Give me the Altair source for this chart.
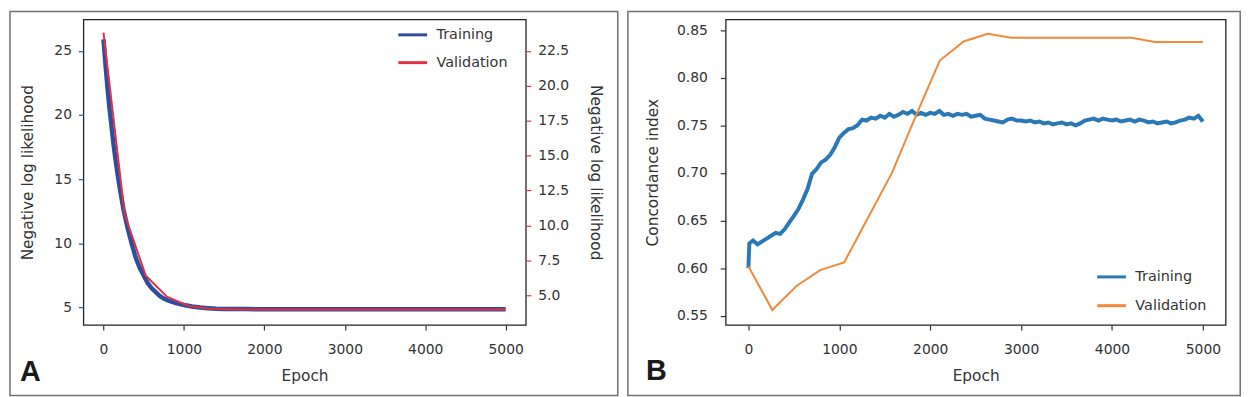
import altair as alt
import pandas as pd

FONT = "DejaVu Sans"

# ---------------- Panel A data ----------------
a_train_epoch = [0, 25, 50, 75, 100, 125, 150, 175, 200, 250, 300, 350, 400, 450, 500,
                 550, 600, 650, 700, 750, 800, 900, 1000, 1100, 1200, 1300, 1400, 1500,
                 1750, 2000, 2500, 3000, 3500, 4000, 4500, 4999]
a_train_nll = [25.9, 23.9, 22.1, 20.5, 19.1, 17.7, 16.5, 15.4, 14.4, 12.6, 11.2, 10.0, 8.9, 8.1, 7.5,
               6.9, 6.5, 6.2, 5.9, 5.7, 5.55, 5.35, 5.2, 5.08, 5.0, 4.95, 4.91, 4.89,
               4.88, 4.87, 4.87, 4.86, 4.86, 4.86, 4.86, 4.86]

val_epoch = [0, 263, 526, 789, 1053, 1316, 1579, 1842, 2105, 2368, 2632, 2895, 3158,
             3421, 3684, 3947, 4211, 4474, 4737, 5000]
a_val_nll = [23.8, 10.8, 6.4, 4.9, 4.25, 4.04, 4.0, 3.99, 3.99, 3.99, 3.99, 3.99, 3.99,
             3.99, 3.99, 3.99, 3.99, 3.99, 3.99, 3.99]

# ---------------- Panel B data ----------------
b_train_epoch = [0, 10, 50, 100, 150, 200, 250, 300, 350, 400, 450, 500, 550, 600, 650, 700,
                 750, 800, 850, 900, 950, 1000, 1050, 1100, 1150, 1200, 1250, 1300, 1350,
                 1400, 1450, 1500, 1550, 1600, 1650, 1700, 1750, 1800, 1850, 1900, 1950,
                 2000, 2050, 2100, 2150, 2200, 2250, 2300, 2350, 2400, 2450, 2500, 2550,
                 2600, 2650, 2700, 2750, 2800, 2850, 2900, 2950, 3000, 3050, 3100, 3150,
                 3200, 3250, 3300, 3350, 3400, 3450, 3500, 3550, 3600, 3650, 3700, 3750,
                 3800, 3850, 3900, 3950, 4000, 4050, 4100, 4150, 4200, 4250, 4300, 4350,
                 4400, 4450, 4500, 4550, 4600, 4650, 4700, 4750, 4800, 4850, 4900, 4950, 5000]
b_train_ci = [0.600, 0.626, 0.629, 0.625, 0.628, 0.631, 0.634, 0.637, 0.636, 0.641, 0.648,
              0.655, 0.662, 0.672, 0.683, 0.699, 0.704, 0.711, 0.714, 0.719, 0.727, 0.737,
              0.742, 0.746, 0.747, 0.750, 0.756, 0.755, 0.758, 0.757, 0.760, 0.758, 0.762,
              0.759, 0.761, 0.764, 0.762, 0.765, 0.761, 0.763, 0.761, 0.763, 0.762, 0.765,
              0.761, 0.762, 0.760, 0.762, 0.761, 0.762, 0.759, 0.760, 0.761, 0.757, 0.756,
              0.755, 0.754, 0.753, 0.756, 0.757, 0.755, 0.755, 0.754, 0.755, 0.753, 0.754,
              0.752, 0.753, 0.751, 0.752, 0.753, 0.751, 0.752, 0.750, 0.752, 0.755, 0.756,
              0.757, 0.755, 0.757, 0.756, 0.755, 0.756, 0.754, 0.755, 0.756, 0.754, 0.756,
              0.755, 0.753, 0.754, 0.752, 0.753, 0.754, 0.752, 0.753, 0.755, 0.756, 0.758,
              0.757, 0.760, 0.754]
b_val_ci = [0.602, 0.556, 0.581, 0.598, 0.606, 0.653, 0.700, 0.760, 0.818, 0.838, 0.846,
            0.842, 0.842, 0.842, 0.842, 0.842, 0.842, 0.8375, 0.8375, 0.8375]

series_names = ["Training", "Validation"]
x_ticks = [0, 1000, 2000, 3000, 4000, 5000]
a_left_ticks = [5, 10, 15, 20, 25]
a_right_ticks = [5.0, 7.5, 10.0, 12.5, 15.0, 17.5, 20.0, 22.5]
b_ticks = [0.55, 0.60, 0.65, 0.70, 0.75, 0.80, 0.85]

BLUE_A = "#2f4d9e"
RED_A = "#e2323f"
BLUE_B = "#2a78b4"
ORANGE_B = "#f08a3a"
TXT = "#333333"
FRAME = "#707070"

dfa_t = pd.DataFrame({"epoch": a_train_epoch, "value": a_train_nll, "series": "Training"})
dfa_v = pd.DataFrame({"epoch": val_epoch, "value": a_val_nll, "series": "Validation"})
dfb_t = pd.DataFrame({"epoch": b_train_epoch, "value": b_train_ci, "series": "Training"})
dfb_v = pd.DataFrame({"epoch": val_epoch, "value": b_val_ci, "series": "Validation"})
one = alt.Data(values=[{"k": 1}])

WA, WB, H = 446, 504, 308


def xenc():
    return alt.X("epoch:Q", scale=alt.Scale(domain=[-250, 5250], nice=False, zero=False),
                 axis=alt.Axis(values=x_ticks, title="Epoch", tickSize=5, labelPadding=13,
                               titlePadding=12, format="d"))


def legend(x, y, rp):
    return alt.Legend(title=None, orient="none", legendX=x, legendY=y, symbolType="stroke",
                      symbolSize=841, symbolStrokeWidth=3, labelFontSize=14.5, labelFont=FONT,
                      labelColor=TXT, labelOffset=8, padding=0, rowPadding=rp)


color_a = alt.Color("series:N", scale=alt.Scale(domain=series_names, range=[BLUE_A, RED_A]),
                    legend=legend(316, -0.5, 5))
color_b = alt.Color("series:N", scale=alt.Scale(domain=series_names, range=[BLUE_B, ORANGE_B]),
                    legend=legend(373, 243.5, 6))

train_a = alt.Chart(dfa_t).mark_line(strokeWidth=4.5).encode(
    x=xenc(),
    y=alt.Y("value:Q", scale=alt.Scale(domain=[3.64, 27.44], nice=False, zero=False),
            axis=alt.Axis(orient="left", values=a_left_ticks, title="Negative log likelihood",
                          tickColor=BLUE_A, tickSize=5, labelPadding=7, titlePadding=18)),
    color=color_a,
)
val_a = alt.Chart(dfa_v).mark_line(strokeWidth=2).encode(
    x=xenc(),
    y=alt.Y("value:Q", scale=alt.Scale(domain=[2.88, 24.74], nice=False, zero=False),
            axis=alt.Axis(orient="right", values=a_right_ticks, format=".1f",
                          title="Negative log likelihood", tickColor=RED_A, tickSize=5,
                          labelPadding=7, titlePadding=19)),
    color=color_a,
)
frame_a = alt.Chart(one).mark_rect(fill="transparent", stroke=FRAME, strokeWidth=1.5).encode(
    x=alt.value(-74), x2=alt.value(538.7), y=alt.value(-8), y2=alt.value(379))
lab_a = alt.Chart(one).mark_text(text="A", font="Liberation Sans", fontSize=29, fontWeight="bold",
                                 align="left", baseline="alphabetic", color="#1a1a1a").encode(
    x=alt.value(-64), y=alt.value(364))

panel_a = alt.layer(frame_a, train_a, val_a, lab_a).resolve_scale(y="independent").properties(
    width=WA, height=H)

yb = alt.Y("value:Q", scale=alt.Scale(domain=[0.5403, 0.8611], nice=False, zero=False),
           axis=alt.Axis(values=b_ticks, format=".2f", title="Concordance index", tickSize=5.5,
                         labelPadding=13, titlePadding=16))
train_b = alt.Chart(dfb_t).mark_line(strokeWidth=4).encode(x=xenc(), y=yb, color=color_b)
val_b = alt.Chart(dfb_v).mark_line(strokeWidth=2).encode(x=xenc(), y=yb, color=color_b)
frame_b = alt.Chart(one).mark_rect(fill="transparent", stroke=FRAME, strokeWidth=1.5).encode(
    x=alt.value(-98.6), x2=alt.value(518.7), y=alt.value(-8), y2=alt.value(379))
lab_b = alt.Chart(one).mark_text(text="B", font="Liberation Sans", fontSize=29, fontWeight="bold",
                                 align="left", baseline="alphabetic", color="#1a1a1a").encode(
    x=alt.value(-80.3), y=alt.value(363))

panel_b = alt.layer(frame_b, train_b, val_b, lab_b).properties(width=WB, height=H)

chart = alt.hconcat(panel_a, panel_b, spacing=6.5).resolve_scale(color="independent").properties(
    padding=0, background="white"
).configure_view(stroke="#222222", strokeWidth=1.3).configure_axis(
    labelFont=FONT, titleFont=FONT, labelFontSize=14, titleFontSize=15.5, labelColor=TXT,
    titleColor=TXT, titleFontWeight="normal", grid=False, domain=False, tickColor=TXT,
    tickWidth=1.2
)

chart.save("out.html", embed_options={"renderer": "svg", "actions": False})
